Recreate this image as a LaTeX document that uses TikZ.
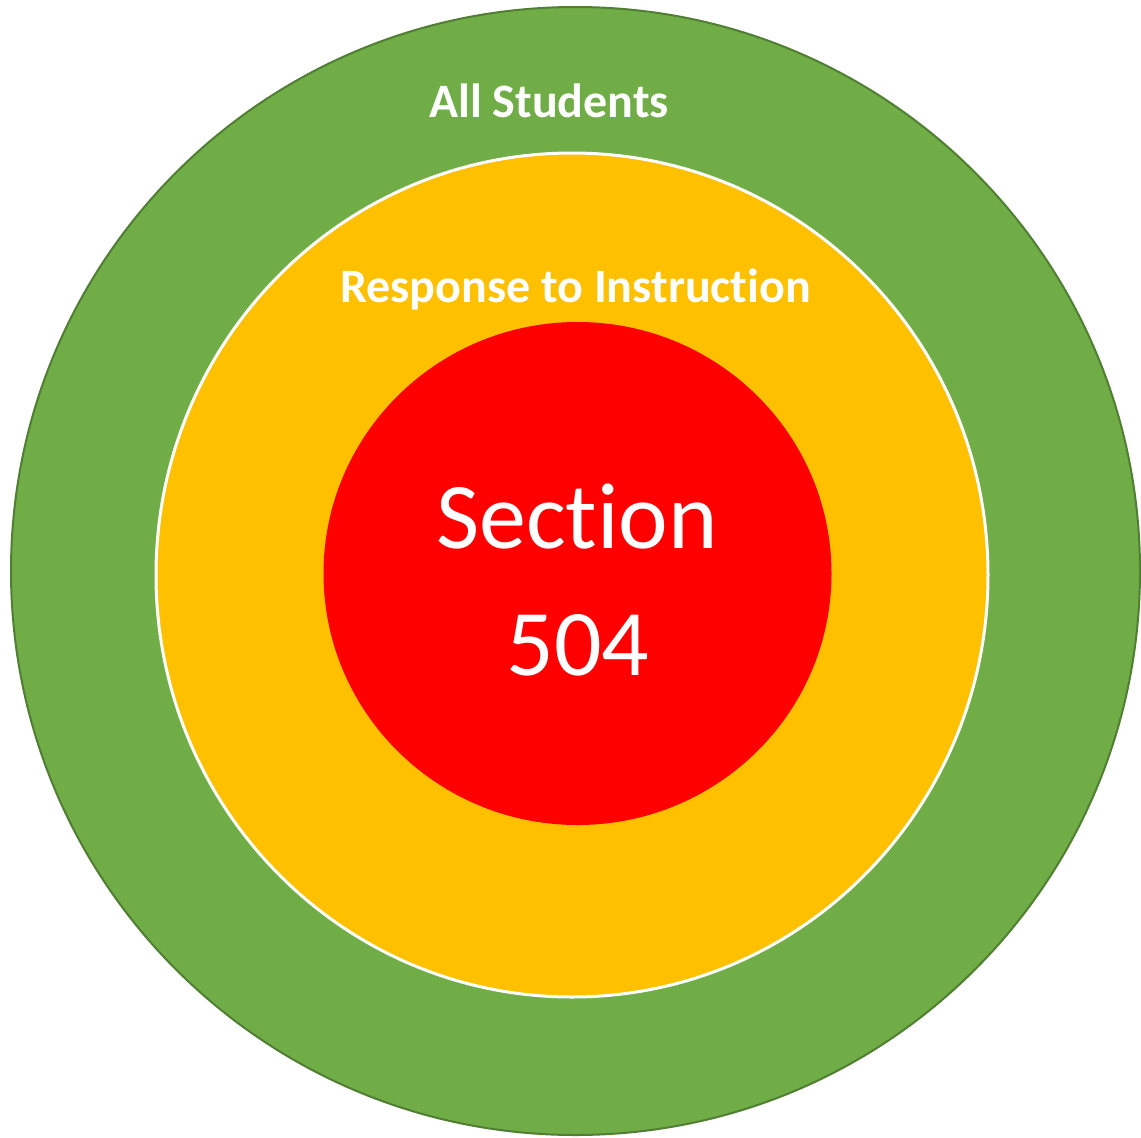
\documentclass[tikz,border=0pt]{standalone}
\usepackage{fontspec}
\setmainfont[RawFeature={-liga}]{Carlito}
\definecolor{grn}{HTML}{70AD47}
\definecolor{grnd}{HTML}{507E32}
\definecolor{ylw}{HTML}{FFC000}
\definecolor{rd}{HTML}{FF0000}
\begin{document}
\begin{tikzpicture}[x=1pt,y=-1pt,
  lbl/.style={text=white,inner sep=0pt,anchor=base},
  boldlbl/.style={lbl,font=\fontsize{48}{56}\selectfont\bfseries},
  biglbl/.style={lbl,font=\fontsize{94}{110}\selectfont}]
\useasboundingbox (0,0) rectangle (1141,1138);
\fill[grn,draw=grnd,line width=2pt] (575.5,571) ellipse [x radius=564.5,y radius=564];
\fill[ylw,draw=white,line width=3pt] (572,575) ellipse [x radius=416,y radius=422];
\fill[rd] (577.5,573.5) ellipse [x radius=254,y radius=251.5];
\node[boldlbl] (all) at (549,117) {All Students};
\node[boldlbl] (rti) at (575.5,302) {Response to Instruction};
\node[biglbl] (sec) at (577,548) {Section};
\node[biglbl] (num) at (578,675) {504};
\end{tikzpicture}
\end{document}
